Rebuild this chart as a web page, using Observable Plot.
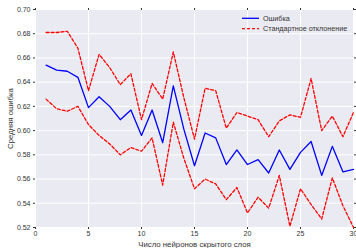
<!DOCTYPE html>
<html>
<head>
<meta charset="utf-8">
<script src="https://cdn.jsdelivr.net/npm/d3@7"></script>
<script src="https://cdn.jsdelivr.net/npm/@observablehq/plot@0.6"></script>
<style>
  html, body { margin: 0; padding: 0; background: #fff; }
  #chart svg { display: block; }
</style>
</head>
<body>
<div id="chart"></div>
<script>
const neurons = [1,2,3,4,5,6,7,8,9,10,11,12,13,14,15,16,17,18,19,20,21,22,23,24,25,26,27,28,29,30];
const meanErr = [0.654,0.650,0.649,0.644,0.619,0.628,0.620,0.609,0.617,0.596,0.617,0.590,0.637,0.601,0.571,0.598,0.594,0.572,0.584,0.572,0.576,0.565,0.584,0.568,0.582,0.591,0.563,0.587,0.566,0.568];
const upperStd = [0.681,0.681,0.682,0.668,0.633,0.663,0.652,0.638,0.647,0.609,0.639,0.626,0.665,0.627,0.593,0.635,0.633,0.602,0.615,0.612,0.609,0.595,0.608,0.613,0.611,0.643,0.600,0.612,0.595,0.615];
const lowerStd = [0.626,0.618,0.616,0.620,0.605,0.596,0.589,0.580,0.586,0.583,0.594,0.555,0.607,0.577,0.552,0.560,0.556,0.543,0.553,0.532,0.545,0.536,0.563,0.521,0.552,0.539,0.527,0.561,0.538,0.520];
const xTicks = [0,5,10,15,20,25,30];
const yTicks = [0.52,0.54,0.56,0.58,0.60,0.62,0.64,0.66,0.68,0.70];
const legendLabels = ["Ошибка", "Стандартное отклонение"];
const xLabel = "Число нейронов скрытого слоя";
const yLabel = "Средняя ошибка";

const meanData = neurons.map((n, i) => ({n, v: meanErr[i]}));
const upData = neurons.map((n, i) => ({n, v: upperStd[i]}));
const loData = neurons.map((n, i) => ({n, v: lowerStd[i]}));

const blue = "#0000ff", red = "#ff0000";
const tickColor = "#333333";

const chart = Plot.plot({
  width: 356,
  height: 248,
  marginLeft: 35,
  marginRight: 3,
  marginTop: 9,
  marginBottom: 21,
  style: {fontFamily: "'Liberation Sans', Arial, sans-serif", fontSize: "7px", color: tickColor, background: "#fff"},
  x: {domain: [0, 30]},
  y: {domain: [0.52, 0.70]},
  marks: [
    Plot.frame({fill: "#EAEAF2", stroke: null}),
    Plot.gridX(xTicks, {stroke: "#fff", strokeOpacity: 1, strokeWidth: 1}),
    Plot.gridY(yTicks, {stroke: "#fff", strokeOpacity: 1, strokeWidth: 1}),
    Plot.axisX(xTicks, {tickSize: 2, tickPadding: 2, stroke: tickColor, label: null, tickFormat: d => d3.format("d")(d)}),
    Plot.axisX({anchor: "bottom", ticks: [], label: xLabel, labelAnchor: "center", labelArrow: "none", labelOffset: 19, fontSize: 7.8}),
    Plot.axisX(xTicks, {anchor: "top", tickSize: 2, stroke: tickColor, label: null, tickFormat: () => ""}),
    Plot.axisY(yTicks, {tickSize: 2, tickPadding: 3, stroke: tickColor, label: null, tickFormat: d3.format(".2f")}),
    Plot.axisY({anchor: "left", ticks: [], label: yLabel, labelAnchor: "center", labelArrow: "none", labelOffset: 28, fontSize: 7.8}),
    Plot.axisY(yTicks, {anchor: "right", tickSize: 2, stroke: tickColor, label: null, tickFormat: () => ""}),
    Plot.line(upData, {x: "n", y: "v", stroke: red, strokeWidth: 1.3, strokeDasharray: "3,2"}),
    Plot.line(loData, {x: "n", y: "v", stroke: red, strokeWidth: 1.3, strokeDasharray: "3,2"}),
    Plot.line(meanData, {x: "n", y: "v", stroke: blue, strokeWidth: 1.3})
  ]
});

// Legend inside the plot, upper right (no frame)
const svg = d3.select(chart);
const lg = svg.append("g")
  .attr("font-family", "'Liberation Sans', Arial, sans-serif")
  .attr("font-size", "7.2px")
  .attr("text-anchor", "start")
  .attr("fill", tickColor);
const items = [
  {label: legendLabels[0], color: blue, dash: null},
  {label: legendLabels[1], color: red, dash: "3,2"}
];
items.forEach((it, i) => {
  const y = 18.3 + i * 10.3;
  lg.append("line").attr("x1", 242).attr("x2", 259).attr("y1", y).attr("y2", y)
    .attr("fill", "none")
    .style("stroke", it.color).style("stroke-width", "1.3px")
    .style("stroke-dasharray", it.dash);
  lg.append("text").attr("x", 263).attr("y", y).attr("dy", "0.35em")
    .style("text-anchor", "start").text(it.label);
});

document.getElementById("chart").appendChild(chart);
</script>
</body>
</html>
